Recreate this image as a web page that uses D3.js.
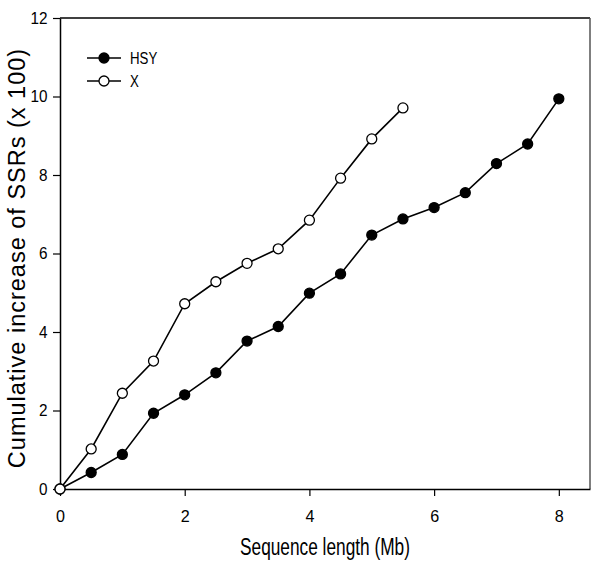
<!DOCTYPE html>
<html>
<head>
<meta charset="utf-8">
<script src="https://cdn.jsdelivr.net/npm/d3@7"></script>
<style>
  html, body { margin: 0; padding: 0; background: #fff; }
  svg { display: block; font-family: "Liberation Sans", Arial, sans-serif; }
</style>
</head>
<body>
<svg id="chart" width="600" height="565"></svg>
<script>
// ---- data ----
const hsyLength = [0, 0.5, 1, 1.5, 2, 2.5, 3, 3.5, 4, 4.5, 5, 5.5, 6, 6.5, 7, 7.5, 8];
const hsyValues = [0, 0.42, 0.88, 1.93, 2.40, 2.96, 3.77, 4.14, 4.99, 5.48, 6.47, 6.88, 7.17, 7.55, 8.29, 8.79, 9.94];
const xLength = [0, 0.5, 1, 1.5, 2, 2.5, 3, 3.5, 4, 4.5, 5, 5.5];
const xValues = [0, 1.02, 2.44, 3.26, 4.72, 5.28, 5.75, 6.12, 6.85, 7.92, 8.92, 9.71];
const xTicks = [0, 2, 4, 6, 8];
const yTicks = [0, 2, 4, 6, 8, 10, 12];
const seriesNames = ["HSY", "X"];
const xTitle = "Sequence length (Mb)";
const yTitle = "Cumulative increase of SSRs (x 100)";

// ---- layout ----
const svg = d3.select("#chart");
const pLeft = 60, pRight = 590, pTop = 18, pBottom = 489;
const x = d3.scaleLinear().domain([0, 8.5]).range([pLeft, pRight]);
const y = d3.scaleLinear().domain([0, 12]).range([pBottom, pTop]);

// frame (top & right)
svg.append("line").attr("x1", pLeft).attr("x2", pRight).attr("y1", pTop).attr("y2", pTop)
  .attr("stroke", "#000").attr("stroke-width", 1.5);
svg.append("line").attr("x1", pRight).attr("x2", pRight).attr("y1", pTop).attr("y2", pBottom)
  .attr("stroke", "#555").attr("stroke-width", 1.5);

// axes
const xAxis = svg.append("g").attr("transform", `translate(0,${pBottom})`)
  .call(d3.axisBottom(x).tickValues(xTicks).tickSizeInner(7).tickSizeOuter(0).tickPadding(14));
const yAxis = svg.append("g").attr("transform", `translate(${pLeft},0)`)
  .call(d3.axisLeft(y).tickValues(yTicks).tickSizeInner(7).tickSizeOuter(0).tickPadding(6));

[xAxis, yAxis].forEach(g => {
  g.select(".domain").attr("stroke", "#000").attr("stroke-width", 1.5);
  g.selectAll(".tick line").attr("stroke", "#000").attr("stroke-width", 1.2);
  g.selectAll(".tick text").attr("fill", "#000").attr("font-size", 17)
    .attr("font-family", "'Liberation Sans', Arial, sans-serif");
});
xAxis.selectAll(".tick text").attr("transform", "scale(0.95,1)");
yAxis.selectAll(".tick text").attr("transform", "scale(0.9,1)").attr("x", -14);

// titles
svg.append("text")
  .attr("transform", `translate(${(pLeft + pRight) / 2},555) scale(0.72,1)`)
  .attr("text-anchor", "middle").attr("font-size", 24).attr("fill", "#000")
  .text(xTitle);
svg.append("text")
  .attr("transform", `translate(25,258) rotate(-90)`)
  .attr("text-anchor", "middle").attr("font-size", 23.5).attr("letter-spacing", 1)
  .attr("fill", "#000")
  .text(yTitle);

// series
const line = d3.line().x(d => x(d[0])).y(d => y(d[1]));
const hsy = hsyLength.map((v, i) => [v, hsyValues[i]]);
const xs = xLength.map((v, i) => [v, xValues[i]]);

function drawSeries(data, filled) {
  const g = svg.append("g");
  g.append("path").datum(data).attr("d", line)
    .attr("fill", "none").attr("stroke", "#000").attr("stroke-width", 1.6);
  g.selectAll("circle").data(data).enter().append("circle")
    .attr("cx", d => x(d[0])).attr("cy", d => y(d[1])).attr("r", 5)
    .attr("fill", filled ? "#000" : "#fff").attr("stroke", "#000").attr("stroke-width", 1.3);
}
drawSeries(hsy, true);
drawSeries(xs, false);

// legend
const legend = svg.append("g");
seriesNames.forEach((name, i) => {
  const ly = 58 + i * 23;
  legend.append("line").attr("x1", 87).attr("x2", 121).attr("y1", ly).attr("y2", ly)
    .attr("stroke", "#000").attr("stroke-width", 1.6);
  legend.append("circle").attr("cx", 104).attr("cy", ly).attr("r", 5)
    .attr("fill", i === 0 ? "#000" : "#fff").attr("stroke", "#000").attr("stroke-width", 1.3);
  legend.append("text")
    .attr("transform", `translate(130,${ly + 6}) scale(0.78,1)`)
    .attr("font-size", 17).attr("fill", "#000").text(name);
});
</script>
</body>
</html>
